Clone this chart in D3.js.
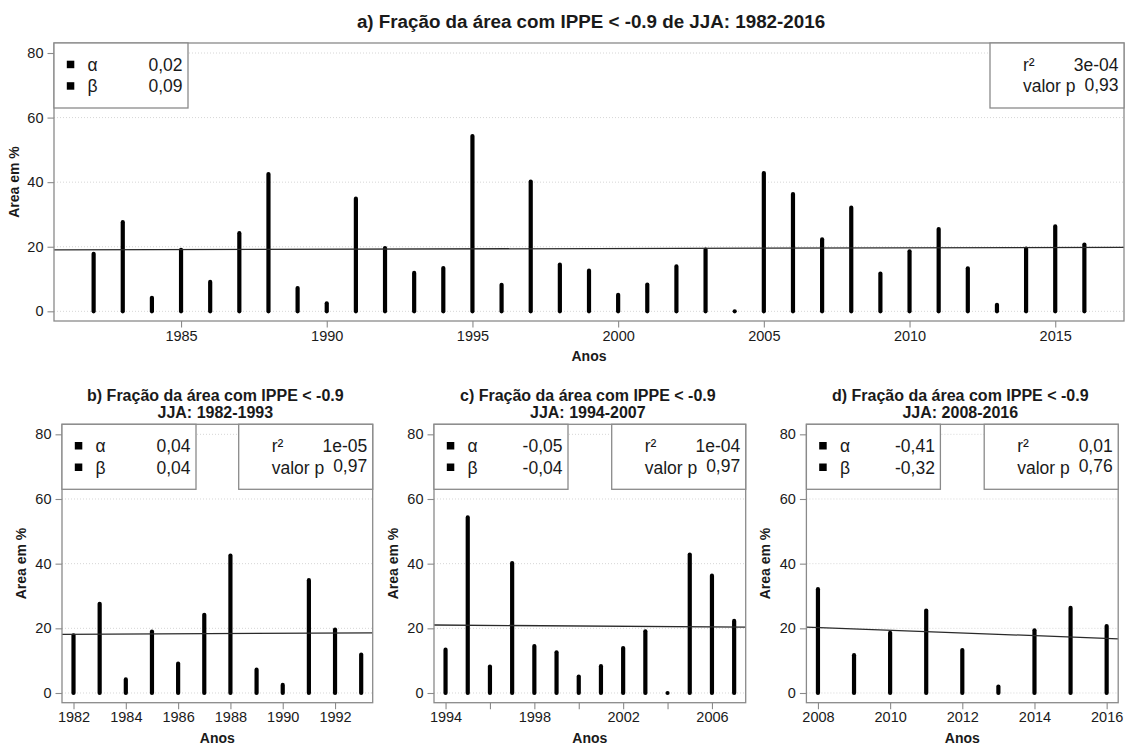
<!DOCTYPE html>
<html>
<head>
<meta charset="utf-8">
<script src="https://cdn.jsdelivr.net/npm/d3@7"></script>
<style>
  body { margin: 0; background: #fff; }
  svg { font-family: "Liberation Sans", Arial, Helvetica, sans-serif; }
</style>
</head>
<body>
<svg id="fig" width="1129" height="746"></svg>
<script>
// Fraction of area (%) with IPPE < -0.9 in JJA, per year
const years = [1982, 1983, 1984, 1985, 1986, 1987, 1988, 1989, 1990, 1991, 1992, 1993,
               1994, 1995, 1996, 1997, 1998, 1999, 2000, 2001, 2002, 2003, 2004, 2005,
               2006, 2007, 2008, 2009, 2010, 2011, 2012, 2013, 2014, 2015, 2016];
const areaPct = [17.8, 27.6, 4.2, 19.0, 9.1, 24.2, 42.5, 7.2, 2.5, 34.9, 19.6, 11.9,
                 13.4, 54.3, 8.2, 40.2, 14.5, 12.6, 5.1, 8.3, 13.9, 19.1, 0.0, 42.8,
                 36.3, 22.3, 32.1, 11.7, 18.6, 25.5, 13.3, 2.0, 19.4, 26.3, 20.7];

// Periods shown in panels a-d
const panelLetters = ["a", "b", "c", "d"];
const periodStart = [1982, 1982, 1994, 2008];
const periodEnd = [2016, 1993, 2007, 2016];

// Legend statistics
const alphaLabels = ["0,02", "0,04", "-0,05", "-0,41"];
const betaLabels = ["0,09", "0,04", "-0,04", "-0,32"];
const r2Labels = ["3e-04", "1e-05", "1e-04", "0,01"];
const pLabels = ["0,93", "0,97", "0,97", "0,76"];

// Fitted trend value at the first and last year of each period
const trendStart = [19.08, 18.15, 21.0, 20.25];
const trendEnd = [19.77, 18.6, 20.4, 16.9];

// Axis ticks
const yTicks = [0, 20, 40, 60, 80];
const xTicksA = [1985, 1990, 1995, 2000, 2005, 2010, 2015];
const xTicksB = [1982, 1984, 1986, 1988, 1990, 1992];
const xTicksC = [1994, 1996, 1998, 2000, 2002, 2004, 2006];
const xLabelsC = [1994, 1998, 2002, 2006];
const xTicksD = [2008, 2010, 2012, 2014, 2016];

const svg = d3.select("#fig");
const BORDER = "#8a8a8a";
const TEXT = "#1a1a1a";

const frames = [
  { left: 54, right: 1124, top: 43, bottom: 321, ticks: xTicksA, labels: xTicksA },
  { left: 62, right: 372.7, top: 424.3, bottom: 702.7, ticks: xTicksB, labels: xTicksB },
  { left: 434, right: 745.7, top: 424.3, bottom: 702.7, ticks: xTicksC, labels: xLabelsC },
  { left: 806.4, right: 1118.2, top: 424.3, bottom: 702.7, ticks: xTicksD, labels: xTicksD }
];

// Main title (panel a)
svg.append("text")
  .attr("x", 591).attr("y", 28)
  .attr("text-anchor", "middle")
  .attr("font-size", 18.8).attr("font-weight", "bold").attr("fill", TEXT)
  .text("a) Fração da área com IPPE < -0.9 de JJA: 1982-2016");

frames.forEach((f, i) => {
  const s = periodStart[i], e = periodEnd[i];
  const pad = 0.04 * (e - s);
  const x = d3.scaleLinear().domain([s - pad, e + pad]).range([f.left, f.right]);
  const y = d3.scaleLinear().domain([-3, 83.1]).range([f.bottom, f.top]);
  const g = svg.append("g");

  // faint dotted grid
  g.append("g").selectAll("line").data(yTicks).join("line")
    .attr("x1", f.left).attr("x2", f.right)
    .attr("y1", d => y(d)).attr("y2", d => y(d))
    .attr("stroke", "#d6d6d6").attr("stroke-width", 1)
    .attr("stroke-dasharray", "1,2");

  // bars: one vertical stroke per year from 0 to the value
  const idx = years.map((yr, k) => k).filter(k => years[k] >= s && years[k] <= e);
  g.append("g").selectAll("line").data(idx).join("line")
    .attr("x1", k => x(years[k])).attr("x2", k => x(years[k]))
    .attr("y1", y(0)).attr("y2", k => y(areaPct[k]))
    .attr("stroke", "#000").attr("stroke-width", 4.2)
    .attr("stroke-linecap", "round");

  // trend line across the full plotting region
  const slope = (trendEnd[i] - trendStart[i]) / (e - s);
  const x0 = s - pad, x1 = e + pad;
  g.append("line")
    .attr("x1", x(x0)).attr("x2", x(x1))
    .attr("y1", y(trendStart[i] + slope * (x0 - s)))
    .attr("y2", y(trendStart[i] + slope * (x1 - s)))
    .attr("stroke", "#2a2a2a").attr("stroke-width", 1.3);

  // axes
  const yAxis = d3.axisLeft(y).tickValues(yTicks).tickSize(6.5).tickPadding(4);
  const xAxis = d3.axisBottom(x).tickValues(f.ticks).tickSize(6.5).tickPadding(3)
    .tickFormat(d => f.labels.includes(d) ? String(d) : "");
  const ya = g.append("g").attr("transform", `translate(${f.left},0)`).call(yAxis);
  const xa = g.append("g").attr("transform", `translate(0,${f.bottom})`).call(xAxis);
  [ya, xa].forEach(a => {
    a.select(".domain").remove();
    a.selectAll(".tick line").attr("stroke", BORDER).attr("stroke-width", 1.1);
    a.selectAll(".tick text").attr("fill", TEXT).attr("font-size", 14.5)
      .attr("font-family", "Liberation Sans, Arial, sans-serif");
  });

  // plot frame
  g.append("rect")
    .attr("x", f.left).attr("y", f.top)
    .attr("width", f.right - f.left).attr("height", f.bottom - f.top)
    .attr("fill", "none").attr("stroke", BORDER).attr("stroke-width", 1.3);

  // legend boxes
  const bw = 134, bh = 65;
  g.append("rect").attr("x", f.left).attr("y", f.top).attr("width", bw).attr("height", bh)
    .attr("fill", "#fff").attr("stroke", BORDER).attr("stroke-width", 1.3);
  g.append("rect").attr("x", f.right - bw).attr("y", f.top).attr("width", bw).attr("height", bh)
    .attr("fill", "#fff").attr("stroke", BORDER).attr("stroke-width", 1.3);

  const rows = [f.top + 21.5, f.top + 43];
  const lf = 17.5;
  const leftRows = [["α", alphaLabels[i]], ["β", betaLabels[i]]];
  leftRows.forEach((r, j) => {
    g.append("rect").attr("x", f.left + 12.8).attr("y", rows[j] - 3.8)
      .attr("width", 7.5).attr("height", 7.5).attr("fill", "#000");
    g.append("text").attr("x", f.left + 33.5).attr("y", rows[j]).attr("dy", "0.36em")
      .attr("font-size", lf).attr("fill", TEXT).text(r[0]);
    g.append("text").attr("x", f.left + 128.5).attr("y", rows[j]).attr("dy", "0.36em")
      .attr("text-anchor", "end").attr("font-size", lf).attr("fill", TEXT).text(r[1]);
  });
  const rightRows = [["r²", r2Labels[i]], ["valor p", pLabels[i]]];
  rightRows.forEach((r, j) => {
    g.append("text").attr("x", f.right - bw + 33).attr("y", rows[j]).attr("dy", "0.36em")
      .attr("font-size", lf).attr("fill", TEXT).text(r[0]);
    g.append("text").attr("x", f.right - 5.5).attr("y", rows[j] - (j === 1 ? 1.5 : 0)).attr("dy", "0.36em")
      .attr("text-anchor", "end").attr("font-size", lf).attr("fill", TEXT).text(r[1]);
  });

  // axis titles
  const cx = (f.left + f.right) / 2;
  const cy = (f.top + f.bottom) / 2;
  g.append("text").attr("x", cx).attr("y", f.bottom + (i === 0 ? 40 : 40.5))
    .attr("text-anchor", "middle").attr("font-size", 14).attr("font-weight", "bold")
    .attr("fill", TEXT).text("Anos");
  g.append("text")
    .attr("transform", `translate(${f.left - (i === 0 ? 35 : 36)},${cy}) rotate(-90)`)
    .attr("text-anchor", "middle").attr("font-size", 14).attr("font-weight", "bold")
    .attr("fill", TEXT).text("Area em %");

  // panel titles for the sub-periods
  if (i > 0) {
    const t = g.append("text").attr("text-anchor", "middle")
      .attr("font-size", 16).attr("font-weight", "bold").attr("fill", TEXT);
    t.append("tspan").attr("x", cx - 2).attr("y", 401)
      .text(`${panelLetters[i]}) Fração da área com IPPE < -0.9`);
    t.append("tspan").attr("x", cx - 2).attr("y", 418)
      .text(`JJA: ${s}-${e}`);
  }
});
</script>
</body>
</html>
